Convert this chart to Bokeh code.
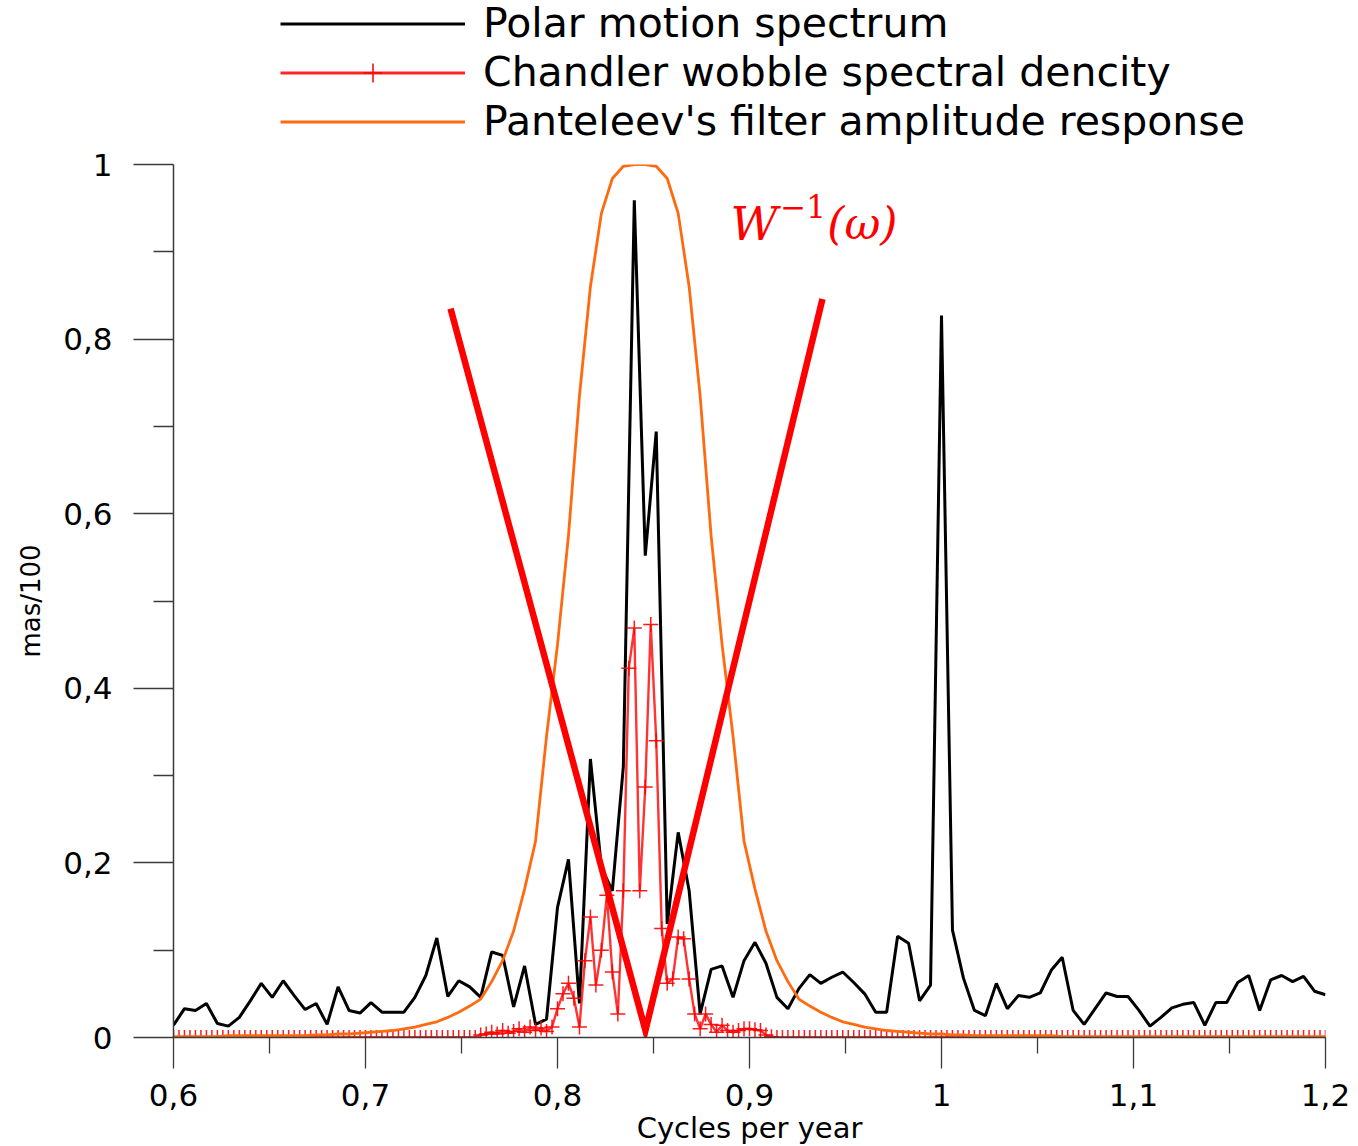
import numpy as np
from bokeh.plotting import figure
from bokeh.layouts import column
from bokeh.models import (Range1d, FixedTicker, CustomJSTickFormatter, Legend,
                          LegendItem, Label)
from bokeh.embed import file_html
from bokeh.resources import INLINE

# ---------------- data ----------------
# frequency grid of the polar motion spectrum / filter response (cycles per year)
freq = np.round(np.linspace(0.6, 1.2, 106), 6)

polar_motion = [
    0.014, 0.033, 0.031, 0.039, 0.016, 0.013, 0.023, 0.042, 0.062, 0.046,
    0.065, 0.048, 0.032, 0.039, 0.015, 0.058, 0.031, 0.028, 0.040, 0.029,
    0.029, 0.029, 0.046, 0.071, 0.114, 0.047, 0.065, 0.058, 0.046, 0.098,
    0.094, 0.035, 0.082, 0.015, 0.021, 0.149, 0.204, 0.039, 0.319, 0.195,
    0.168, 0.310, 0.959, 0.552, 0.694, 0.130, 0.235, 0.168, 0.027, 0.078,
    0.082, 0.046, 0.088, 0.109, 0.085, 0.046, 0.033, 0.056, 0.072, 0.062,
    0.069, 0.075, 0.063, 0.050, 0.029, 0.029, 0.116, 0.108, 0.042, 0.060,
    0.827, 0.123, 0.068, 0.031, 0.025, 0.062, 0.033, 0.048, 0.046, 0.051,
    0.077, 0.092, 0.031, 0.015, 0.033, 0.051, 0.047, 0.047, 0.031, 0.013,
    0.023, 0.034, 0.038, 0.040, 0.014, 0.040, 0.040, 0.063, 0.071, 0.031,
    0.066, 0.071, 0.064, 0.070, 0.053, 0.049,
]

panteleev = [
    0.001, 0.001, 0.001, 0.001, 0.001, 0.002, 0.002, 0.002, 0.002, 0.002,
    0.002, 0.002, 0.002, 0.003, 0.003, 0.004, 0.004, 0.005, 0.006, 0.007,
    0.008, 0.010, 0.012, 0.015, 0.018, 0.023, 0.029, 0.036, 0.044, 0.064,
    0.088, 0.122, 0.170, 0.225, 0.345, 0.450, 0.575, 0.735, 0.860, 0.944,
    0.984, 0.998, 1.000, 1.000, 0.998, 0.984, 0.944, 0.860, 0.735, 0.575,
    0.450, 0.345, 0.225, 0.170, 0.122, 0.088, 0.064, 0.044, 0.036, 0.029,
    0.023, 0.018, 0.015, 0.012, 0.010, 0.008, 0.007, 0.006, 0.005, 0.004,
    0.004, 0.003, 0.003, 0.002, 0.002, 0.002, 0.002, 0.002, 0.002, 0.002,
    0.002, 0.001, 0.001, 0.001, 0.001, 0.001, 0.001, 0.001, 0.001, 0.001,
    0.001, 0.001, 0.001, 0.001, 0.001, 0.001, 0.001, 0.001, 0.001, 0.001,
    0.001, 0.001, 0.001, 0.001, 0.001, 0.001,
]

# finer grid of the Chandler wobble spectral density
freq_fine = np.round(np.linspace(0.6, 1.2, 211), 6)
chandler = (
    [0.0] * 56
    + [0.003, 0.004, 0.006, 0.004, 0.008, 0.005, 0.007, 0.010, 0.006, 0.012,
       0.008, 0.011, 0.007, 0.012, 0.033, 0.050, 0.062, 0.045, 0.012, 0.088,
       0.138, 0.060, 0.100, 0.163, 0.075, 0.027, 0.168, 0.423, 0.469, 0.168,
       0.287, 0.473, 0.340, 0.125, 0.062, 0.067, 0.115, 0.113, 0.067, 0.027,
       0.010, 0.027, 0.015, 0.006, 0.014, 0.008, 0.006, 0.008, 0.010, 0.010,
       0.009, 0.008, 0.003, 0.001, 0.0, 0.0, 0.0]
    + [0.0] * 98
)

# inverse weighting function sketch (annotation)
w_inv_x = [0.7443, 0.8458, 0.9380]
w_inv_y = [0.835, 0.008, 0.846]

x_tick_values = [0.6, 0.7, 0.8, 0.9, 1.0, 1.1, 1.2]
x_tick_labels = ["0,6", "0,7", "0,8", "0,9", "1", "1,1", "1,2"]
x_minor_ticks = [0.65, 0.75, 0.85, 0.95, 1.05, 1.15]
y_tick_values = [0.0, 0.2, 0.4, 0.6, 0.8, 1.0]
y_tick_labels = ["0", "0,2", "0,4", "0,6", "0,8", "1"]
y_minor_ticks = [0.1, 0.3, 0.5, 0.7, 0.9]

legend_labels = ["Polar motion spectrum",
                 "Chandler wobble spectral dencity",
                 "Panteleev's filter amplitude response"]

# ---------------- styles ----------------
FONT = "DejaVu Sans"
AXIS_COLOR = "#3a3a3a"
BLACK_STYLE = dict(line_color="black", line_width=3)
RED_LINE_STYLE = dict(line_color="#ff0000", line_width=2.4, line_alpha=0.8)
RED_MARK_STYLE = dict(marker="cross", size=15, line_color="#ff0000",
                      line_width=1.5, line_alpha=0.9)
ORANGE_STYLE = dict(line_color="#ff6a10", line_width=2.8)

# ---------------- main figure ----------------
p = figure(frame_width=1152, frame_height=873,
           min_border_left=173, min_border_right=33,
           min_border_top=18, min_border_bottom=109,
           x_range=Range1d(0.6, 1.2), y_range=Range1d(0.0, 1.0),
           output_backend="svg", toolbar_location=None)

p.outline_line_color = None
p.xgrid.visible = False
p.ygrid.visible = False
p.background_fill_color = "white"
p.border_fill_color = "white"

p.line(freq, polar_motion, **BLACK_STYLE)
p.line(freq_fine, chandler, **RED_LINE_STYLE)
p.scatter(freq_fine, chandler, **RED_MARK_STYLE)
p.line(freq, panteleev, **ORANGE_STYLE)
p.line(w_inv_x, w_inv_y, line_color="#ff0000", line_width=6.5,
       line_join="miter")

# label W^{-1}(ω)
for txt, lx, ly, size, style in [("W", 0.8901, 0.9324, "46px", "italic"),
                                 ("\u22121", 0.9160, 0.9519, "31px", "normal"),
                                 ("(\u03c9)", 0.9405, 0.9324, "44px", "italic")]:
    p.add_layout(Label(x=lx, y=ly, text=txt, text_color="#ff0000",
                       text_font="DejaVu Serif", text_font_style=style,
                       text_font_size=size, text_baseline="alphabetic",
                       text_align="left"))

fmt_code = """
let best = 0;
for (let i = 0; i < vals.length; i++) {
  if (Math.abs(vals[i] - tick) < Math.abs(vals[best] - tick)) best = i;
}
return labs[best];
"""
xa = p.xaxis[0]
xa.ticker = FixedTicker(ticks=x_tick_values, minor_ticks=x_minor_ticks)
xa.formatter = CustomJSTickFormatter(args=dict(vals=x_tick_values, labs=x_tick_labels), code=fmt_code)
xa.axis_label = "Cycles per year"
xa.major_tick_out = 31
xa.major_tick_in = 0
xa.minor_tick_out = 16
xa.minor_tick_in = 0
xa.major_label_standoff = 15
xa.axis_label_standoff = 2

ya = p.yaxis[0]
ya.ticker = FixedTicker(ticks=y_tick_values, minor_ticks=y_minor_ticks)
ya.formatter = CustomJSTickFormatter(args=dict(vals=y_tick_values, labs=y_tick_labels), code=fmt_code)
ya.axis_label = "mas/100"
ya.major_tick_out = 40
ya.major_tick_in = 0
ya.minor_tick_out = 20
ya.minor_tick_in = 0
ya.major_label_standoff = 21
ya.axis_label_standoff = 14

for ax in (xa, ya):
    ax.axis_line_color = AXIS_COLOR
    ax.axis_line_width = 1.5
    ax.major_tick_line_color = AXIS_COLOR
    ax.major_tick_line_width = 1.3
    ax.minor_tick_line_color = AXIS_COLOR
    ax.minor_tick_line_width = 1.3
    ax.major_label_text_font = FONT
    ax.major_label_text_font_size = "31px"
    ax.major_label_text_color = "black"
    ax.axis_label_text_font = FONT
    ax.axis_label_text_font_style = "normal"
    ax.axis_label_text_color = "black"
xa.axis_label_text_font_size = "29px"
ya.axis_label_text_font_size = "26px"

# ---------------- legend strip above the plot ----------------
lg = figure(frame_width=1152, height=146, x_range=Range1d(0, 1), y_range=Range1d(0, 1),
            min_border_left=173, min_border_right=33, min_border_top=0,
            min_border_bottom=0, x_axis_type=None, y_axis_type=None,
            output_backend="svg", toolbar_location=None)
lg.outline_line_color = None
lg.xgrid.visible = False
lg.ygrid.visible = False
# off-range placeholder glyphs that carry the legend styles
l_black = lg.line([-5, -4], [-5, -4], **BLACK_STYLE)
l_red = lg.line([-5, -4], [-5, -4], line_color="#ff0000", line_width=3, line_alpha=0.85)
l_red_m = lg.scatter([-5], [-5], marker="cross", size=26, line_color="#ff0000",
                     line_width=1.5)
l_orange = lg.line([-5, -4], [-5, -4], line_color="#ff6a10", line_width=3.2)

legend = Legend(items=[LegendItem(label=legend_labels[0], renderers=[l_black]),
                       LegendItem(label=legend_labels[1], renderers=[l_red, l_red_m]),
                       LegendItem(label=legend_labels[2], renderers=[l_orange])],
                location=(107, 1), orientation="vertical",
                glyph_width=185, glyph_height=47, label_height=47,
                label_standoff=18, spacing=1, padding=0, margin=0,
                label_text_font=FONT, label_text_font_size="41px",
                label_text_color="black",
                border_line_color=None, background_fill_alpha=0)
lg.add_layout(legend, "center")

layout = column(lg, p, spacing=0)
open("out.html", "w").write(file_html(layout, INLINE))
